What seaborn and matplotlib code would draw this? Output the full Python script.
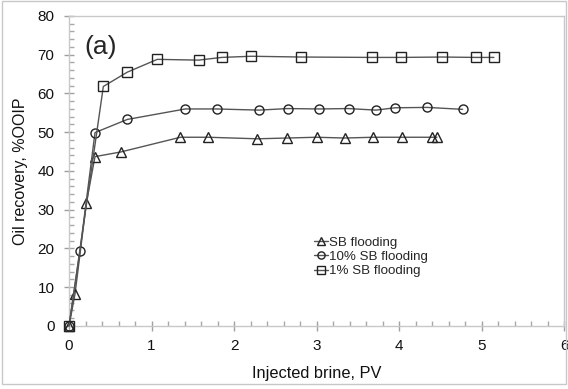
import matplotlib
matplotlib.use("Agg")
import matplotlib.pyplot as plt
import seaborn as sns
import pandas as pd
from matplotlib.ticker import MultipleLocator

sns.set_style("white", {"xtick.bottom": True, "ytick.left": True})
plt.rcParams['font.family'] = ['Liberation Sans', 'DejaVu Sans']
plt.rcParams['xtick.minor.visible'] = True
plt.rcParams['ytick.minor.visible'] = True

sb_x = [0, 0.073, 0.21, 0.315, 0.627, 1.35, 1.69, 2.28, 2.64, 3.0, 3.34, 3.69, 4.04, 4.40, 4.46]
sb_y = [0, 8.3, 31.7, 43.7, 44.9, 48.7, 48.7, 48.3, 48.5, 48.7, 48.5, 48.7, 48.7, 48.7, 48.7]

sb10_x = [0, 0.133, 0.315, 0.707, 1.41, 1.79, 2.30, 2.65, 3.03, 3.39, 3.72, 3.95, 4.34, 4.77]
sb10_y = [0, 19.4, 49.9, 53.3, 56.0, 56.0, 55.7, 56.1, 56.0, 56.1, 55.7, 56.3, 56.4, 55.9]

sb1_x = [0, 0.416, 0.707, 1.07, 1.57, 1.85, 2.21, 2.81, 3.67, 4.02, 4.52, 4.93, 5.15]
sb1_y = [0, 61.8, 65.5, 68.8, 68.6, 69.3, 69.6, 69.4, 69.3, 69.3, 69.4, 69.3, 69.3]

labels = ["SB flooding", "10% SB flooding", "1% SB flooding"]
markers = ["^", "o", "s"]

fig = plt.figure(figsize=(5.68, 3.89), dpi=100)
ax = fig.add_axes([0.1215, 0.162, 0.8715, 0.797])

series = [(sb_x, sb_y), (sb10_x, sb10_y), (sb1_x, sb1_y)]
for (xs, ys), lab, mk in zip(series, labels, markers):
    df = pd.DataFrame({"x": xs, "y": ys})
    sns.lineplot(data=df, x="x", y="y", ax=ax, color="#555555", linewidth=1.0,
                 marker=mk, markersize=6.5, markerfacecolor="none",
                 markeredgecolor="#222222", markeredgewidth=1.0, label=lab,
                 sort=False, estimator=None, clip_on=False, zorder=3)

ax.set_xlim(0, 6)
ax.set_ylim(0, 80)
ax.xaxis.set_major_locator(MultipleLocator(1))
ax.xaxis.set_minor_locator(MultipleLocator(0.2))
ax.yaxis.set_major_locator(MultipleLocator(10))
ax.yaxis.set_minor_locator(MultipleLocator(2))
ax.tick_params(axis="both", which="major", direction="inout", length=7, color="#a0a0a0",
               labelsize=11, labelcolor="#111111", width=1.0,
               bottom=True, left=True, top=False, right=False)
ax.tick_params(axis="x", which="major", pad=6)
ax.tick_params(axis="y", which="major", pad=7)
ax.tick_params(axis="both", which="minor", direction="in", length=3.5, color="#a8a8a8",
               width=1.0, bottom=True, left=True, top=False, right=False)

for sp in ax.spines.values():
    sp.set_color("#c8c8c8")
    sp.set_linewidth(1.0)
    sp.set_zorder(1)

ax.set_xlabel("Injected brine, PV", fontsize=11.8, color="#111111", labelpad=9)
ax.set_ylabel("Oil recovery, %OOIP", fontsize=11.5, color="#111111", labelpad=7)
ax.text(0.031, 0.94, "(a)", transform=ax.transAxes, fontsize=19, va="top", ha="left")

leg = ax.legend(loc="upper left", bbox_to_anchor=(305/568, 1-227/389),
                bbox_transform=fig.transFigure, frameon=False, fontsize=9.6,
                handlelength=1.0, handletextpad=0.1, labelspacing=0.15,
                borderpad=0.2, markerscale=0.8)

fig.patches.append(plt.Rectangle((0.004, 0.012), 0.992, 0.985, transform=fig.transFigure,
                                 fill=False, edgecolor="#c8c8c8", linewidth=1.0))

fig.savefig("out.png", dpi=100)
